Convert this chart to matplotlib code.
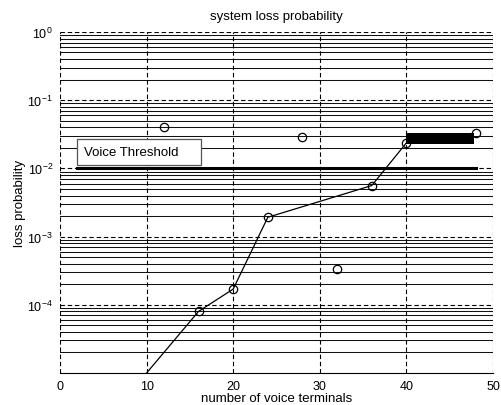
import numpy as np
import matplotlib
matplotlib.use('Agg')
import matplotlib.pyplot as plt
from matplotlib.patches import Rectangle

plt.rcParams['font.family'] = ['Liberation Sans', 'DejaVu Sans']
plt.rcParams['mathtext.fontset'] = 'custom'
plt.rcParams['mathtext.rm'] = 'Liberation Sans'
plt.rcParams['mathtext.it'] = 'Liberation Sans:italic'
plt.rcParams['font.size'] = 8

# data
curve_x = [10, 16, 20, 24, 36, 40]
curve_y = [1.0e-5, 8.0e-5, 1.7e-4, 1.92e-3, 5.6e-3, 2.36e-2]
circle_x = [12, 16, 20, 24, 28, 32, 36, 40, 48]
circle_y = [4.1e-2, 8.0e-5, 1.7e-4, 1.92e-3, 2.9e-2, 3.3e-4, 5.6e-3, 2.36e-2, 3.25e-2]
threshold = 1e-2
threshold_x = [2, 48]
block_x = [40, 47.8]
block_y = [2.26e-2, 3.3e-2]
label_box_x = [2.0, 16.3]
label_box_y = [1.12e-2, 2.7e-2]
xticks = [0, 10, 20, 30, 40, 50]
yticks = [1e-4, 1e-3, 1e-2, 1e-1, 1e0]

fig = plt.figure(figsize=(5.02, 4.06), dpi=100)
ax = fig.add_axes([0.1195, 0.0788, 0.8625, 0.84])
ax.set_yscale('log')
ax.set_xlim(0, 50)
ax.set_ylim(1e-5, 1)

# grid: solid minor horizontals, dashed majors
for d in range(-5, 0):
    for m in range(2, 10):
        ax.axhline(m * 10.0 ** d, color='#111111', lw=0.75, zorder=1)
for yt in [1e-4, 1e-3, 1e-2, 1e-1, 1e0]:
    ax.axhline(yt, color='black', lw=0.8, ls=(0, (4, 2.5)), zorder=1)
for xt in xticks:
    ax.axvline(xt, color='black', lw=0.8, ls=(0, (4, 2.5)), zorder=1)

ax.plot(curve_x, curve_y, color='black', lw=0.9, zorder=3)
ax.plot(circle_x, circle_y, ls='none', marker='o', ms=6, mfc='none',
        mec='black', mew=0.9, zorder=4)
ax.plot(threshold_x, [threshold, threshold], color='black', lw=2.2, zorder=3)
ax.fill_between(block_x, block_y[0], block_y[1], color='black', lw=0, zorder=3)

ax.add_patch(Rectangle((label_box_x[0], label_box_y[0]),
                       label_box_x[1] - label_box_x[0],
                       label_box_y[1] - label_box_y[0],
                       fc='white', ec='#555555', lw=0.9, zorder=5))
ax.text(2.8, np.sqrt(label_box_y[0] * label_box_y[1]), 'Voice Threshold',
        fontsize=9.5, va='center', ha='left', zorder=6)

for s in ['top', 'right', 'left']:
    ax.spines[s].set_visible(False)
ax.spines['bottom'].set_linewidth(0.8)

ax.set_xticks(xticks)
ax.set_yticks(yticks)
ax.set_yticklabels(['$10^{-4}$', '$10^{-3}$', '$10^{-2}$', '$10^{-1}$', '$10^{0}$'])
ax.yaxis.set_minor_locator(matplotlib.ticker.NullLocator())
ax.tick_params(length=0, labelsize=9, pad=5)

ax.set_title('system loss probability', fontsize=9.5, pad=9)
ax.set_xlabel('number of voice terminals', fontsize=9.5, labelpad=0)
ax.set_ylabel('loss probability', fontsize=9.5, labelpad=1)

fig.savefig('out.png', dpi=100)
